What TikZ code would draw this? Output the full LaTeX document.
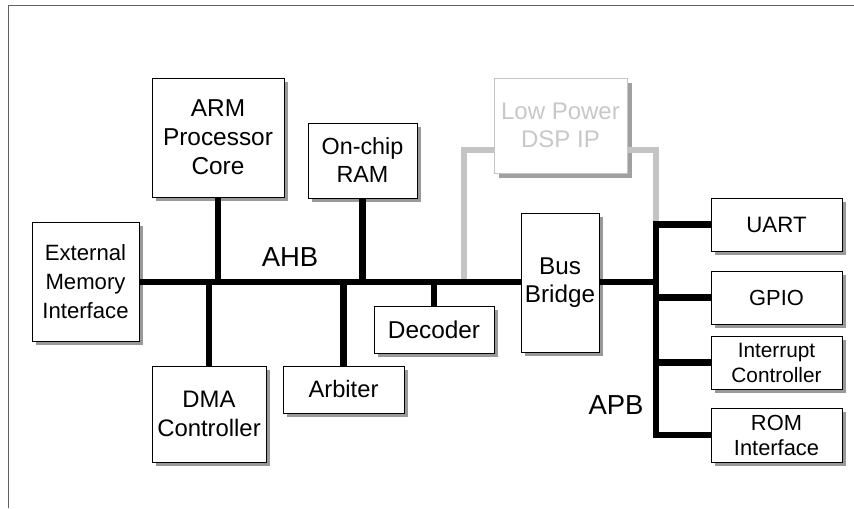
\documentclass[tikz,border=0pt]{standalone}
\usepackage{fontspec}
\setmainfont{Liberation Sans}
\usetikzlibrary{shadows}
\definecolor{framecol}{HTML}{606060}
\definecolor{dspline}{HTML}{C4C4C4}
\definecolor{dsptext}{HTML}{C8C8C8}
\definecolor{dspshadow}{HTML}{A0A0A0}
\begin{document}
\begin{tikzpicture}[x=0.75pt,y=-0.75pt,
  wh/.style 2 args={minimum width=#1*0.75pt, minimum height=#2*0.75pt},
  box/.style={draw=black, line width=0.75pt, fill=white, inner sep=0pt, align=center,
    drop shadow={shadow xshift=3.2pt, shadow yshift=-3.2pt, fill=black!40, opacity=1}},
  dspbox/.style={draw=dspline, line width=0.75pt, fill=white, inner sep=0pt, align=center,
    text=dsptext,
    drop shadow={shadow xshift=3.5pt, shadow yshift=-3.5pt, fill=dspshadow, opacity=1}},
  bus/.style={line width=5pt, black, line join=miter},
  gbus/.style={line width=4.5pt, dspline, line join=miter},
  buslabel/.style={font=\fontsize{20.6}{24}\selectfont, inner sep=0pt}]
\useasboundingbox (0,0) rectangle (854,508);
\draw[framecol, line width=0.75pt] (8,508) -- (8,5) -- (854,5);

% reference coordinates
\coordinate (ahb) at (0,282);
\coordinate (gl) at (464,150);
\coordinate (gr) at (656,150);
\coordinate (apbx) at (656,0);

% gray DSP connections (under everything)
\node[dspbox, wh={133}{95}, font=\fontsize{18}{21}\selectfont] (dsp) at (560.5,125.5) {Low Power\\DSP IP};
\node[box, wh={131}{53}, font=\fontsize{16.7}{20}\selectfont] (uart) at (776.5,224.5) {UART};
\draw[gbus] (gl |- ahb) -- (gl) -- (gl -| dsp.west);
\draw[gbus] (dsp.east |- gr) -- (gr) -- (gr |- uart.west);

% boxes
\node[box, wh={132}{119}, font=\fontsize{18.3}{21.75}\selectfont] (arm) at (218,137.5) {ARM\\Processor\\Core};
\node[box, wh={109}{75}, font=\fontsize{17.5}{21}\selectfont] (ram) at (362.5,160.5) {On-chip\\RAM};
\node[box, wh={107}{119}, font=\fontsize{16.6}{21.75}\selectfont] (emi) at (85.5,281.5) {External\\Memory\\Interface};
\node[box, wh={114}{96}, font=\fontsize{17.9}{21.75}\selectfont] (dma) at (209,414) {DMA\\Controller};
\node[box, wh={121}{47}, font=\fontsize{17.8}{21}\selectfont] (arb) at (343.5,389.5) {Arbiter};
\node[box, wh={120}{47}, font=\fontsize{18.3}{21}\selectfont] (dec) at (434,329.5) {Decoder};
\node[box, wh={78}{139}, font=\fontsize{18.2}{21}\selectfont] (bridge) at (560,282.5) {Bus\\Bridge};
\node[box, wh={131}{53}, font=\fontsize{16.4}{20}\selectfont] (gpio) at (776.5,297.5) {GPIO};
\node[box, wh={131}{53}, font=\fontsize{15.6}{18.75}\selectfont] (intc) at (776.5,362.5) {Interrupt\\Controller};
\node[box, wh={131}{54}, font=\fontsize{16.4}{18.75}\selectfont] (rom) at (776.5,435) {ROM\\Interface};

% AHB
\draw[bus] (emi.east |- ahb) -- (bridge.west |- ahb);
\draw[bus] (arm.south) -- (arm.south |- ahb);
\draw[bus] (dma.north |- ahb) -- (dma.north);
\draw[bus] (ram.south) -- (ram.south |- ahb);
\draw[bus] (arb.north |- ahb) -- (arb.north);
\draw[bus] (dec.north |- ahb) -- (dec.north);

% APB
\draw[bus] (bridge.east |- ahb) -- (apbx |- ahb);
\draw[bus] (uart.west) -- (uart.west -| apbx) -- (rom.west -| apbx) -- (rom.west);
\draw[bus] (gpio.west -| apbx) -- (gpio.west);
\draw[bus] (intc.west -| apbx) -- (intc.west);

% labels
\node[buslabel] (ahblabel) at (290,257) {AHB};
\node[buslabel] (apblabel) at (616,405) {APB};
\end{tikzpicture}
\end{document}
